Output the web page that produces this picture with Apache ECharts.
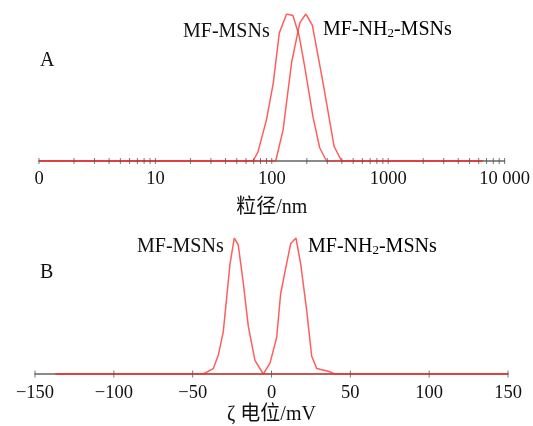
<!DOCTYPE html>
<html><head><meta charset="utf-8">
<script src="https://cdn.jsdelivr.net/npm/echarts@6/dist/echarts.min.js"></script>
<style>html,body{margin:0;padding:0;background:#fff}#c{width:533px;height:426px}</style>
</head><body><div id="c"></div>
<script>
// Panel A: particle size distribution (log x)
const sizeMF   = [1, 69, 76, 90, 103, 116, 134, 152, 172, 192, 226, 258, 295, 6500];
const intMF    = [0, 0, 6, 28, 53, 87, 100, 99, 85, 64, 30, 9, 0, 0];
const sizeNH2  = [1, 108, 125, 148, 174, 196, 223, 276, 343, 398, 6500];
const intNH2   = [0, 0, 21, 67, 94, 100, 92.5, 53, 10, 0, 0];
// Panel B: zeta potential
const zetaMF   = [-137, -43.3, -36.9, -33.7, -30.6, -26.3, -23.6, -21.1, -17.9, -14.7, -10.5, -5.2, 150];
const intZMF   = [0, 0, 4, 14, 31, 81, 100, 95, 67, 35, 10, 0, 0];
const zetaNH2  = [-137, -5.2, -0.95, 3.3, 5.8, 9.2, 12.2, 15.5, 18.5, 22.3, 25.5, 28.7, 36, 40.3, 150];
const intZNH2  = [0, 0, 8, 27, 59, 79, 96, 100, 81, 47, 13, 4, 2, 0, 0];
// axis ticks
const logTicks = [];
for (let d = 1; d <= 1000; d *= 10) for (let k = 1; k <= 9; k++) logTicks.push(k * d);
logTicks.push(10000);
const zetaTicks = [-150, -100, -50, 0, 50, 100, 150];

const serif = "'Liberation Serif', 'Times New Roman', 'Noto Sans CJK SC', serif";
const red = 'rgba(255,40,40,0.75)';
const zip = (a, b) => a.map((v, i) => [v, b[i]]);

const chart = echarts.init(document.getElementById('c'));
const labelRich = {
  n: {fontFamily: serif, fontSize: 20, color: '#111'},
  s: {fontFamily: serif, fontSize: 13, color: '#111', padding: [8, 0, 0, 0]}
};
chart.setOption({
  animation: false,
  grid: [
    {left: 39, right: 28, top: 14, height: 147},
    {left: 35, right: 25, top: 238, height: 136}
  ],
  xAxis: [
    {gridIndex: 0, type: 'log', logBase: 10, min: 1, max: 10000, interval: 1,
     axisLine: {lineStyle: {color: '#666', width: 1.5}}, axisTick: {show: false},
     splitLine: {show: false},
     axisLabel: {fontFamily: serif, fontSize: 18.5, color: '#111', margin: 9,
       formatter: v => v === 1 ? '0' : (v === 10000 ? '10 000' : String(v))},
     name: '粒径/nm', nameLocation: 'middle', nameGap: 37,
     nameTextStyle: {fontFamily: serif, fontSize: 20, color: '#111'}},
    {gridIndex: 1, type: 'value', min: -150, max: 150, interval: 50,
     axisLine: {lineStyle: {color: '#666', width: 1.5}}, axisTick: {show: false},
     splitLine: {show: false},
     axisLabel: {fontFamily: serif, fontSize: 18.5, color: '#111', margin: 10,
       formatter: v => String(v).replace('-', '\u2212')},
     name: 'ζ 电位/mV', nameLocation: 'middle', nameGap: 31,
     nameTextStyle: {fontFamily: serif, fontSize: 20, color: '#111'}}
  ],
  yAxis: [
    {gridIndex: 0, type: 'value', min: 0, max: 100, show: false},
    {gridIndex: 1, type: 'value', min: 0, max: 100, show: false}
  ],
  series: [
    {type: 'line', xAxisIndex: 0, yAxisIndex: 0, data: zip(sizeMF, intMF), showSymbol: false,
     lineStyle: {color: red, width: 1.5}, z: 3},
    {type: 'line', xAxisIndex: 0, yAxisIndex: 0, data: zip(sizeNH2, intNH2), showSymbol: false,
     lineStyle: {color: red, width: 1.5}, z: 3},
    {type: 'line', xAxisIndex: 1, yAxisIndex: 1, data: zip(zetaMF, intZMF), showSymbol: false,
     lineStyle: {color: red, width: 1.5}, z: 3},
    {type: 'line', xAxisIndex: 1, yAxisIndex: 1, data: zip(zetaNH2, intZNH2), showSymbol: false,
     lineStyle: {color: red, width: 1.5}, z: 3},
    {type: 'scatter', xAxisIndex: 0, yAxisIndex: 0, data: logTicks.map(v => [v, 0]), symbol: 'rect',
     symbolSize: [1, 6], itemStyle: {color: '#555'}, silent: true, z: 5},
    {type: 'scatter', xAxisIndex: 1, yAxisIndex: 1, data: zetaTicks.map(v => [v, 0]), symbol: 'rect',
     symbolSize: [1, 7], itemStyle: {color: '#555'}, silent: true, z: 5}
  ],
  graphic: [
    {type: 'text', x: 40, y: 61, style: {text: 'A', fontFamily: serif, fontSize: 20, fill: '#111', verticalAlign: 'middle'}},
    {type: 'text', x: 40, y: 273, style: {text: 'B', fontFamily: serif, fontSize: 20, fill: '#111', verticalAlign: 'middle'}},
    {type: 'text', x: 183, y: 32, style: {text: 'MF-MSNs', fontFamily: serif, fontSize: 20, fill: '#111', verticalAlign: 'middle'}},
    {type: 'text', x: 323, y: 30, style: {text: '{n|MF-NH}{s|2}{n|-MSNs}', rich: labelRich, verticalAlign: 'middle'}},
    {type: 'text', x: 137, y: 247, style: {text: 'MF-MSNs', fontFamily: serif, fontSize: 20, fill: '#111', verticalAlign: 'middle'}},
    {type: 'text', x: 308, y: 247, style: {text: '{n|MF-NH}{s|2}{n|-MSNs}', rich: labelRich, verticalAlign: 'middle'}}
  ]
});
</script></body></html>
